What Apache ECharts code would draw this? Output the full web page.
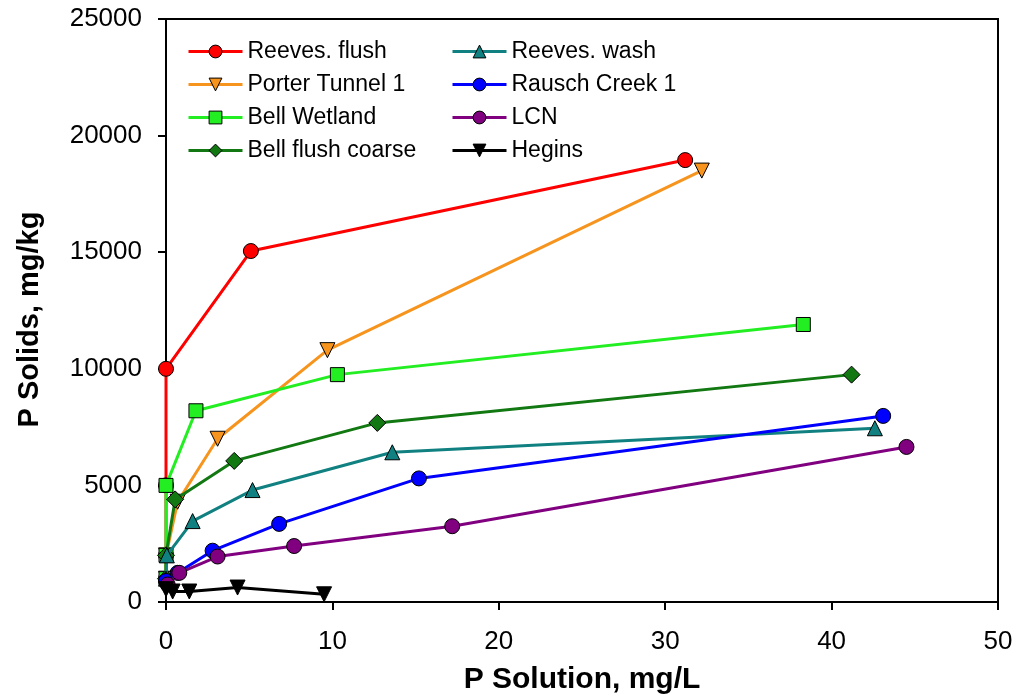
<!DOCTYPE html>
<html>
<head>
<meta charset="utf-8">
<script src="https://cdn.jsdelivr.net/npm/echarts@6/dist/echarts.min.js"></script>
<style>html,body{margin:0;padding:0;background:#fff}#c{width:1023px;height:700px}</style>
</head>
<body>
<div id="c"></div>
<script>
// Data (x = P Solution mg/L, y = P Solids mg/kg)
const seriesNames = ["Reeves. flush","Porter Tunnel 1","Bell Wetland","Bell flush coarse","Reeves. wash","Rausch Creek 1","LCN","Hegins"];
const reevesFlushX = [0, 0, 0, 0, 5.1, 31.2];
const reevesFlushY = [1000, 2000, 5000, 10000, 15050, 18950];
const porterX = [0, 0, 0.7, 3.1, 9.7, 32.2];
const porterY = [1000, 2000, 4300, 7000, 10800, 18500];
const bellWetX = [0, 0, 0, 1.8, 10.3, 38.3];
const bellWetY = [1000, 2000, 5000, 8200, 9750, 11900];
const bellCoarseX = [0, 0, 0.55, 4.1, 12.7, 41.2];
const bellCoarseY = [1000, 2000, 4400, 6050, 7680, 9750];
const reevesWashX = [0, 0.05, 1.6, 5.2, 13.6, 42.6];
const reevesWashY = [1000, 2000, 3470, 4800, 6420, 7450];
const rauschX = [0, 0.7, 2.8, 6.8, 15.2, 43.1];
const rauschY = [900, 1250, 2200, 3350, 5300, 7980];
const lcnX = [0.1, 0.8, 3.1, 7.7, 17.2, 44.5];
const lcnY = [750, 1250, 1950, 2400, 3250, 6650];
const heginsX = [0, 0.4, 1.4, 4.3, 9.5];
const heginsY = [550, 450, 450, 620, 330];
const xTicks = [0, 10, 20, 30, 40, 50];
const yTicks = [0, 5000, 10000, 15000, 20000, 25000];

const xs = [reevesFlushX, porterX, bellWetX, bellCoarseX, reevesWashX, rauschX, lcnX, heginsX];
const ys = [reevesFlushY, porterY, bellWetY, bellCoarseY, reevesWashY, rauschY, lcnY, heginsY];
const colors = ["#ff0000", "#f7941d", "#22ee22", "#127812", "#118080", "#0000ff", "#800080", "#000000"];
const symbols = ["circle", "triangle", "rect", "diamond", "triangle", "circle", "circle", "triangle"];
const rotates = [0, 180, 0, 0, 0, 0, 0, 180];
const sizes = [15, 15, 14, 17, 15, 15, 15, 15];

const series = seriesNames.map((n, i) => ({
  name: n,
  type: 'line',
  data: xs[i].map((x, j) => [x, ys[i][j]]),
  symbol: symbols[i],
  symbolRotate: rotates[i],
  symbolSize: sizes[i],
  lineStyle: {color: colors[i], width: 3},
  itemStyle: {color: colors[i], borderColor: '#000', borderWidth: 1},
  z: 2 + i
}));

const legendText = {fontFamily: 'Liberation Sans', fontSize: 23, color: '#000', lineHeight: 23};
const legendCommon = {orient: 'vertical', top: 35, itemWidth: 54, itemHeight: 16, itemGap: 10,
  textStyle: legendText, lineStyle: {width: 3}, itemStyle: {borderColor: '#000', borderWidth: 1}};
const chart = echarts.init(document.getElementById('c'), null, {renderer: 'canvas'});
chart.setOption({
  animation: false,
  backgroundColor: '#fff',
  grid: {left: 166, right: 25, top: 19, bottom: 97, show: true, borderColor: '#000', borderWidth: 2},
  legend: [
    Object.assign({data: seriesNames.slice(0, 4), left: 182}, legendCommon),
    Object.assign({data: seriesNames.slice(4), left: 446}, legendCommon)
  ],
  xAxis: {
    type: 'value', min: 0, max: 50, interval: 10,
    name: 'P Solution, mg/L', nameLocation: 'middle', nameGap: 63,
    nameTextStyle: {fontFamily: 'Liberation Sans', fontSize: 30, fontWeight: 'bold', color: '#000'},
    axisLine: {show: true, lineStyle: {color: '#000', width: 2}},
    axisTick: {show: true, inside: false, length: 8, lineStyle: {color: '#000', width: 2}},
    axisLabel: {margin: 27, fontFamily: 'Liberation Sans', fontSize: 26, color: '#000',
      formatter: v => xTicks.includes(v) ? String(v) : ''},
    splitLine: {show: false}
  },
  yAxis: {
    type: 'value', min: 0, max: 25000, interval: 5000,
    name: 'P Solids, mg/kg', nameLocation: 'middle', nameGap: 122, nameRotate: 90,
    nameTextStyle: {fontFamily: 'Liberation Sans', fontSize: 29, fontWeight: 'bold', color: '#000', padding: [0, 18, 0, 0]},
    axisLine: {show: true, lineStyle: {color: '#000', width: 2}},
    axisTick: {show: true, inside: false, length: 8, lineStyle: {color: '#000', width: 2}},
    axisLabel: {margin: 24, fontFamily: 'Liberation Sans', fontSize: 26, color: '#000',
      formatter: v => yTicks.includes(v) ? String(v) : ''},
    splitLine: {show: false}
  },
  series: series
});
</script>
</body>
</html>
